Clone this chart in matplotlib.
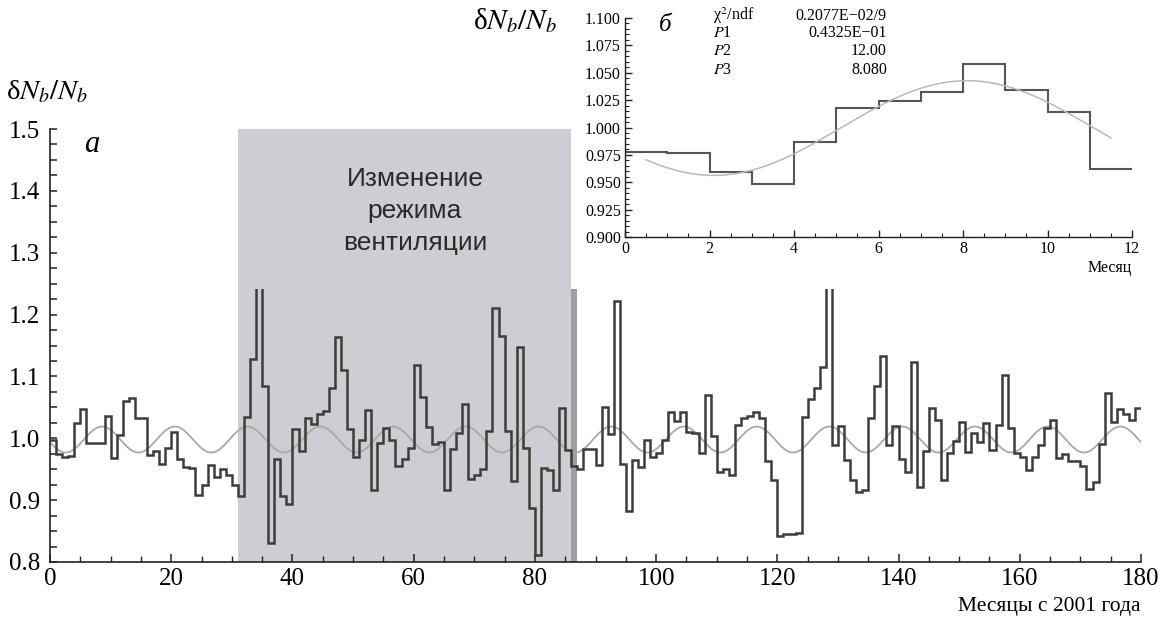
import numpy as np
import matplotlib
matplotlib.use("Agg")
import matplotlib.pyplot as plt
from matplotlib.patches import Rectangle
from matplotlib.ticker import MultipleLocator, FormatStrFormatter

plt.rcParams['font.family'] = ['Liberation Serif', 'DejaVu Serif']
plt.rcParams['mathtext.fontset'] = 'stix'

# ---------------- data ----------------
months_edges = np.arange(0, 181)
ratio = [
    0.998, 0.974, 0.970, 0.972, 1.024, 1.048, 0.992, 0.992, 0.992, 1.036,
    0.968, 1.005, 1.061, 1.065, 1.032, 1.032, 0.973, 0.980, 0.958, 0.985,
    1.010, 0.966, 0.954, 0.952, 0.909, 0.924, 0.957, 0.937, 0.950, 0.941,
    0.924, 0.907, 1.035, 1.128, 1.279, 1.084, 0.830, 0.966, 0.906, 0.893,
    1.015, 0.980, 1.033, 1.023, 1.039, 1.044, 1.081, 1.163, 1.111, 1.015,
    0.969, 0.998, 1.046, 0.917, 0.993, 1.017, 0.998, 0.956, 0.966, 0.985,
    1.119, 1.067, 1.019, 0.990, 0.994, 0.916, 0.982, 1.009, 1.056, 0.934,
    0.940, 0.950, 1.011, 1.211, 1.165, 1.012, 0.931, 1.147, 0.985, 0.887,
    0.811, 0.952, 0.948, 0.917, 1.049, 0.981, 0.956, 0.950, 0.982, 0.982,
    0.957, 1.051, 1.007, 1.222, 0.958, 0.882, 0.965, 0.954, 0.998, 0.969,
    0.977, 0.998, 1.043, 1.028, 1.043, 1.010, 1.008, 0.977, 1.070, 1.004,
    0.945, 0.951, 0.940, 1.022, 1.033, 1.036, 1.043, 1.032, 0.964, 0.933,
    0.842, 0.845, 0.845, 0.847, 1.035, 1.063, 1.081, 1.115, 1.400, 0.989,
    1.020, 0.965, 0.933, 0.913, 0.917, 1.033, 1.084, 1.133, 0.989, 1.020,
    0.966, 0.945, 1.124, 0.921, 0.980, 1.049, 1.029, 0.932, 0.977, 0.996,
    1.027, 0.978, 1.009, 0.994, 1.025, 0.981, 1.022, 1.103, 1.017, 0.977,
    0.969, 0.949, 0.969, 0.989, 1.016, 1.029, 0.968, 0.974, 0.963, 0.963,
    0.956, 0.918, 0.929, 0.990, 1.073, 1.027, 1.048, 1.039, 1.030, 1.049,
]
clip_top = 1.242

# shaded period ("change of ventilation mode") and marker bar
shade_start, shade_end = 31, 86
bar_month, bar_top = 86, 1.242

# seasonal model shown in panel a
main_center, main_amp, main_period, main_phase = 0.998, 0.021, 12.0, 8.6

# panel б: monthly averaged histogram
inset_edges = np.arange(0, 13)
inset_vals = [0.978, 0.977, 0.959, 0.948, 0.987, 1.018, 1.024, 1.032,
              1.058, 1.034, 1.014, 0.962]
fit_P1, fit_P2, fit_P3, fit_c = 0.04325, 12.00, 8.10, 0.9995

# ---------------- figure ----------------
W, H = 1161, 624
fig = plt.figure(figsize=(W / 100, H / 100), dpi=100)

def fx(px):
    return px / W

def fy(py):
    return 1 - py / H

ax = fig.add_axes([fx(50), fy(562), fx(1141) - fx(50), fy(129) - fy(562)])
ax.set_xlim(0, 180)
ax.set_ylim(0.8, 1.5)
for s in ('top', 'right'):
    ax.spines[s].set_visible(False)
for s in ('left', 'bottom'):
    ax.spines[s].set_linewidth(1.2)
    ax.spines[s].set_color('#222222')

ax.axvspan(shade_start, shade_end, color='#cdced1', lw=0, zorder=0)
ax.bar(bar_month + 0.5, bar_top - 0.8, bottom=0.8, width=1.0,
       color='#9e9fa2', lw=0, zorder=1)

tt = np.linspace(0, 180, 1500)
ax.plot(tt, main_center + main_amp * np.cos(2 * np.pi * (tt - main_phase) / main_period),
        color='#a9a9a9', lw=1.3, zorder=2)

st = ax.stairs(ratio, months_edges, baseline=None, color='#3c3c3c', lw=1.8, zorder=3)
st.set_clip_path(Rectangle((0, 0.75), 180, clip_top - 0.75, transform=ax.transData))

ax.xaxis.set_major_locator(MultipleLocator(20))
ax.xaxis.set_minor_locator(MultipleLocator(5))
ax.yaxis.set_major_locator(MultipleLocator(0.1))
ax.yaxis.set_minor_locator(MultipleLocator(0.025))
ax.tick_params(axis='x', which='major', direction='in', length=6, width=1.1,
               labelsize=18, pad=4, color='#222222')
ax.tick_params(axis='x', which='minor', direction='in', length=4.5, width=1.0,
               color='#222222')
ax.tick_params(axis='y', which='both', direction='in', length=5, width=1.1,
               labelsize=18, pad=7, color='#222222')
ax.yaxis.set_major_formatter(FormatStrFormatter('%.1f'))

fig.text(fx(1141), fy(607), 'Месяцы с 2001 года', ha='right', va='center',
         fontsize=15.5)
fig.text(fx(6), fy(92), 'δ$N_b/N_b$', ha='left', va='center', fontsize=20.5)
fig.text(fx(92), fy(144), 'а', ha='center', va='center', fontsize=22,
         style='italic')
ax.text(60.2, 1.368, 'Изменение\nрежима\nвентиляции', ha='center', va='center',
        fontsize=19, family=['Liberation Sans', 'DejaVu Sans'], linespacing=1.42,
        color='#2a2a2a', zorder=4)

# ---------------- inset ----------------
ins = fig.add_axes([fx(625), fy(237), fx(1132) - fx(625), fy(18) - fy(237)])
ins.set_facecolor('none')
ins.set_xlim(0, 12)
ins.set_ylim(0.9, 1.1)
for s in ('top', 'right'):
    ins.spines[s].set_visible(False)
for s in ('left', 'bottom'):
    ins.spines[s].set_linewidth(1.0)
    ins.spines[s].set_color('#222222')
ins.stairs(inset_vals, inset_edges, baseline=None, color='#555555', lw=1.5)
xf = np.linspace(0.5, 11.5, 300)
ins.plot(xf, fit_c + fit_P1 * np.cos(2 * np.pi * (xf - fit_P3) / fit_P2),
         color='#b9b9b9', lw=1.1)
ins.xaxis.set_major_locator(MultipleLocator(2))
ins.xaxis.set_minor_locator(MultipleLocator(0.5))
ins.yaxis.set_major_locator(MultipleLocator(0.025))
ins.yaxis.set_minor_locator(MultipleLocator(0.005))
ins.yaxis.set_major_formatter(FormatStrFormatter('%.3f'))
ins.tick_params(which='major', direction='in', length=5, width=1.0, labelsize=11.5,
                pad=3, color='#222222')
ins.tick_params(which='minor', direction='in', length=2.8, width=0.8,
                color='#222222')
fig.text(fx(1132), fy(268), 'Месяц', ha='right', va='center', fontsize=11.5)
fig.text(fx(473), fy(21), 'δ$N_b/N_b$', ha='left', va='center', fontsize=21)
fig.text(fx(665), fy(25), 'б', ha='center', va='center', fontsize=18,
         style='italic')

stats_left = ['χ$^2$/ndf', '$P$1', '$P$2', '$P$3']
stats_right = ['0.2077E\u221202/9', '0.4325E\u221201', '12.00', '8.080']
stats_baseline = [20, 37, 55, 74]
for lab, val, yy in zip(stats_left, stats_right, stats_baseline):
    fig.text(fx(713), fy(yy), lab, ha='left', va='baseline', fontsize=11.5)
    fig.text(fx(887), fy(yy), val, ha='right', va='baseline', fontsize=11.5)

fig.savefig('out.png', dpi=100)
